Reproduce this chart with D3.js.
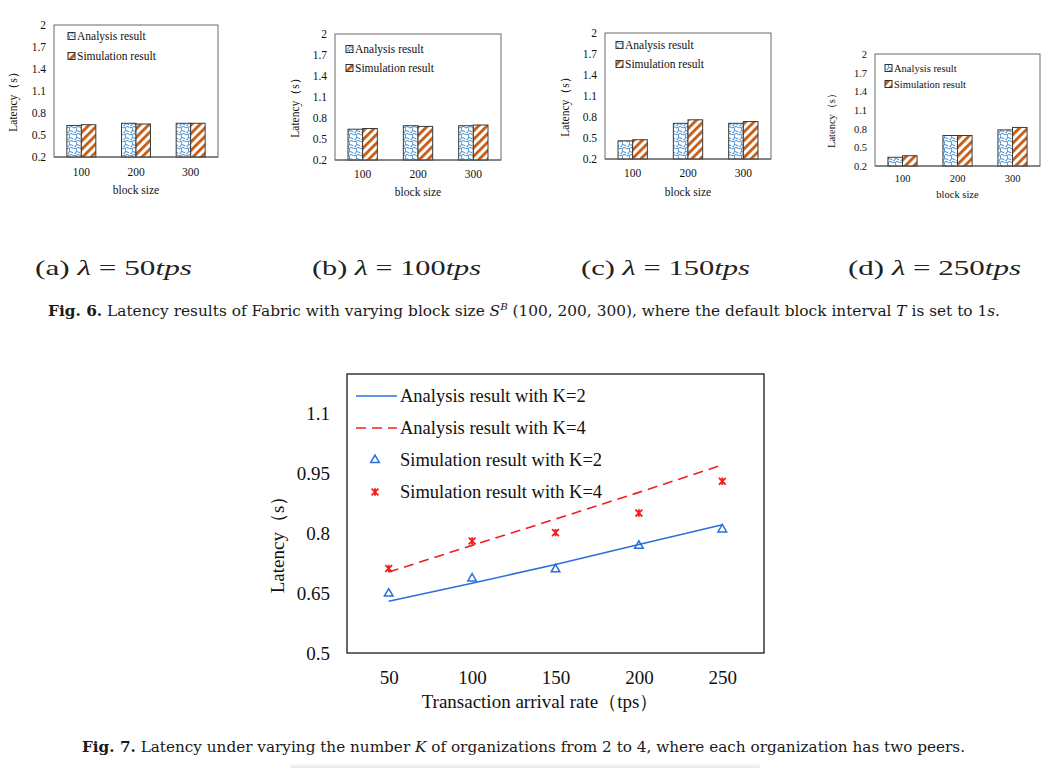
<!DOCTYPE html>
<html><head><meta charset="utf-8">
<script src="https://cdn.jsdelivr.net/npm/d3@7"></script>
<style>body{margin:0;background:#fff}svg{display:block}</style>
</head><body>
<svg id="c" width="1055" height="768"></svg>
<script>
// ---------- data ----------
const blockSizes = ["100", "200", "300"];
const lambdaValues = [50, 100, 150, 250];
const panelTags = ["(a)", "(b)", "(c)", "(d)"];
const barSeries = ["Analysis result", "Simulation result"];
const analysis50 = [0.63, 0.66, 0.66];
const simulation50 = [0.64, 0.65, 0.66];
const analysis100 = [0.64, 0.69, 0.69];
const simulation100 = [0.65, 0.68, 0.70];
const analysis150 = [0.46, 0.71, 0.71];
const simulation150 = [0.475, 0.76, 0.735];
const analysis250 = [0.34, 0.69, 0.78];
const simulation250 = [0.365, 0.69, 0.82];
const barTicks = [0.2, 0.5, 0.8, 1.1, 1.4, 1.7, 2];

const arrivalRates = [50, 100, 150, 200, 250];
const analysisK2 = [0.63, 0.675, 0.722, 0.772, 0.822];
const analysisK4 = [0.703, 0.77, 0.836, 0.903, 0.972];
const simulationK2 = [0.649, 0.687, 0.71, 0.769, 0.81];
const simulationK4 = [0.712, 0.781, 0.802, 0.851, 0.931];
const lineTicks = [0.5, 0.65, 0.8, 0.95, 1.1];
const lineSeries = ["Analysis result with K=2", "Analysis result with K=4",
                    "Simulation result with K=2", "Simulation result with K=4"];

const panelData = [
  [analysis50, simulation50],
  [analysis100, simulation100],
  [analysis150, simulation150],
  [analysis250, simulation250]
];

// ---------- layout ----------
const svg = d3.select("#c");
const serif = "'Liberation Serif', 'Times New Roman', serif";
const BLUE = "#2a6fdc", ORANGE = "#c55a11", WAVE = "#5b9bd5", RED = "#f51c1c";

const defs = svg.append("defs");
// wavy blue pattern
const pw = defs.append("pattern").attr("id", "wave").attr("patternUnits", "userSpaceOnUse")
  .attr("width", 7).attr("height", 7);
pw.append("rect").attr("width", 7).attr("height", 7).attr("fill", "#fff");
pw.append("path").attr("d", "M0,1 C2,-1 3,3 5,1.5 S7,4 6,5.5 S3,8 3.5,7 M-1,5 C1,3 2,7 3,5")
  .attr("fill", "none").attr("stroke", WAVE).attr("stroke-width", 1.1);
// orange stripes
const ps = defs.append("pattern").attr("id", "stripe").attr("patternUnits", "userSpaceOnUse")
  .attr("width", 6).attr("height", 6).attr("patternTransform", "rotate(45)");
ps.append("rect").attr("width", 6).attr("height", 6).attr("fill", "#fff");
ps.append("rect").attr("x", 0).attr("width", 2.8).attr("height", 6).attr("fill", ORANGE);
const fills = ["url(#wave)", "url(#stripe)"];

const panels = [
  {frame: [54, 25, 218, 157], fs: 11.5, ylabX: 17, xtickY: 175.5, xlabY: 194, legX: 68, legY: [36, 56], capX: 35, capW: 157},
  {frame: [335, 34, 501, 160], fs: 11.5, ylabX: 299, xtickY: 178, xlabY: 196, legX: 346, legY: [49, 68], capX: 312, capW: 169},
  {frame: [605, 33, 771, 159], fs: 11.5, ylabX: 569, xtickY: 177, xlabY: 196, legX: 616, legY: [45, 64], capX: 581, capW: 169},
  {frame: [875, 54, 1040, 166], fs: 10.5, ylabX: 835, xtickY: 181.5, xlabY: 197.5, legX: 885, legY: [68, 84], capX: 848, capW: 173}
];

panels.forEach((p, i) => {
  const [l, t, r, b] = p.frame;
  const g = svg.append("g");
  const x = d3.scaleBand().domain(blockSizes).range([l, r]).paddingInner(0.47).paddingOuter(0.235);
  const xs = d3.scaleBand().domain([0, 1]).range([0, x.bandwidth()]);
  const y = d3.scaleLinear().domain([0.2, 2]).range([b, t]);

  // frame
  g.append("rect").attr("x", l).attr("y", t).attr("width", r - l).attr("height", b - t)
    .attr("fill", "#fff").attr("stroke", "#6b6b6b").attr("stroke-width", 1);

  // bars
  [0, 1].forEach(s => {
    g.selectAll(null).data(panelData[i][s]).enter().append("rect")
      .attr("x", (d, k) => x(blockSizes[k]) + xs(s))
      .attr("y", d => y(d))
      .attr("width", xs.bandwidth())
      .attr("height", d => y(0.2) - y(d))
      .attr("fill", fills[s]).attr("stroke", "#3a3a3a").attr("stroke-width", 1);
  });

  // axes
  const ya = d3.axisLeft(y).tickValues(barTicks).tickSize(0).tickPadding(8).tickFormat(d3.format("~g"));
  const yg = g.append("g").attr("transform", `translate(${l},0)`).call(ya);
  yg.select(".domain").remove();
  const xa = d3.axisBottom(x).tickSize(0).tickPadding(0);
  const xg = g.append("g").attr("transform", `translate(0,${p.xtickY})`).call(xa);
  xg.select(".domain").remove();
  [yg, xg].forEach(a => a.selectAll("text").attr("font-family", serif).attr("font-size", p.fs).attr("fill", "#111"));
  xg.selectAll("text").attr("dy", 0);
  g.append("line").attr("x1", l).attr("x2", r).attr("y1", b).attr("y2", b).attr("stroke", "#555");

  g.append("text").attr("transform", `translate(${p.ylabX},${(t + b) / 2 + 8}) rotate(-90)`)
    .attr("text-anchor", "middle").attr("font-family", serif).attr("font-size", p.fs).attr("fill", "#111")
    .text("Latency（s）");
  g.append("text").attr("x", (l + r) / 2).attr("y", p.xlabY).attr("text-anchor", "middle")
    .attr("font-family", serif).attr("font-size", p.fs).attr("fill", "#111").text("block size");

  // legend
  barSeries.forEach((name, s) => {
    g.append("rect").attr("x", p.legX).attr("y", p.legY[s] - 3.5).attr("width", 7).attr("height", 7)
      .attr("fill", fills[s]).attr("stroke", "#333").attr("stroke-width", 1);
    g.append("text").attr("x", p.legX + 9).attr("y", p.legY[s]).attr("dy", "0.35em")
      .attr("font-family", serif).attr("font-size", p.fs).attr("fill", "#111").text(name);
  });

  // sub caption
  const cap = svg.append("text").attr("x", p.capX).attr("y", 275)
    .attr("font-family", serif).attr("font-size", 22).attr("fill", "#222")
    .attr("textLength", p.capW).attr("lengthAdjust", "spacingAndGlyphs");
  cap.append("tspan").text(panelTags[i] + " ");
  cap.append("tspan").attr("font-style", "italic").text("λ");
  cap.append("tspan").text(" = " + lambdaValues[i]);
  cap.append("tspan").attr("font-style", "italic").text("tps");
});

// ---------- Fig. 6 caption ----------
const capFont = "'DejaVu Serif', serif";
const c6 = svg.append("text").attr("x", 48).attr("y", 316).attr("font-family", capFont)
  .attr("font-size", 15).attr("fill", "#1a1a1a").attr("textLength", 952).attr("lengthAdjust", "spacingAndGlyphs");
c6.append("tspan").attr("font-weight", "bold").text("Fig. 6.");
c6.append("tspan").text("  Latency results of Fabric with varying block size ");
c6.append("tspan").attr("font-style", "italic").text("S");
c6.append("tspan").attr("font-style", "italic").attr("font-size", 10).attr("dy", -6).text("B");
c6.append("tspan").attr("dy", 6).text(" (100, 200, 300), where the default block interval ");
c6.append("tspan").attr("font-style", "italic").text("T");
c6.append("tspan").text(" is set to 1");
c6.append("tspan").attr("font-style", "italic").text("s");
c6.append("tspan").text(".");

// ---------- Fig. 7 line chart ----------
const L = 347, T = 374, R = 764, B = 653;
const g7 = svg.append("g");
const x7 = d3.scaleLinear().domain([25, 275]).range([L, R]);
const y7 = d3.scaleLinear().domain([0.5, 1.2]).range([B, T]);
g7.append("rect").attr("x", L).attr("y", T).attr("width", R - L).attr("height", B - T)
  .attr("fill", "#fff").attr("stroke", "#1a1a1a").attr("stroke-width", 1.3);

const ya7 = g7.append("g").attr("transform", `translate(${L},0)`)
  .call(d3.axisLeft(y7).tickValues(lineTicks).tickSize(0).tickPadding(17).tickFormat(d3.format("~g")));
ya7.select(".domain").remove();
const xa7 = g7.append("g").attr("transform", `translate(0,${B})`)
  .call(d3.axisBottom(x7).tickValues(arrivalRates).tickSize(0).tickPadding(18));
xa7.select(".domain").remove();
[ya7, xa7].forEach(a => a.selectAll("text").attr("font-family", serif).attr("font-size", 19).attr("fill", "#111"));

g7.append("text").attr("transform", `translate(284,540) rotate(-90)`).attr("text-anchor", "middle")
  .attr("font-family", serif).attr("font-size", 19).attr("fill", "#111").text("Latency（s）");
g7.append("text").attr("x", 540).attr("y", 708).attr("text-anchor", "middle")
  .attr("font-family", serif).attr("font-size", 19).attr("fill", "#111").text("Transaction arrival rate（tps）");

const line7 = d3.line().x((d, k) => x7(arrivalRates[k])).y(d => y7(d));
g7.append("path").attr("d", line7(analysisK2)).attr("fill", "none").attr("stroke", BLUE).attr("stroke-width", 1.6);
g7.append("path").attr("d", line7(analysisK4)).attr("fill", "none").attr("stroke", RED)
  .attr("stroke-width", 1.6).attr("stroke-dasharray", "10,6");

const tri = d3.symbol().type(d3.symbolTriangle).size(32);
function starPath(cx, cy, s) {
  return `M${cx - s},${cy - s}L${cx + s},${cy + s}M${cx - s},${cy + s}L${cx + s},${cy - s}M${cx},${cy - s * 1.1}L${cx},${cy + s * 1.1}`;
}
g7.selectAll(null).data(simulationK2).enter().append("path")
  .attr("d", tri).attr("transform", (d, k) => `translate(${x7(arrivalRates[k])},${y7(d)})`)
  .attr("fill", "none").attr("stroke", BLUE).attr("stroke-width", 1.5);
g7.selectAll(null).data(simulationK4).enter().append("path")
  .attr("d", (d, k) => starPath(x7(arrivalRates[k]), y7(d), 3.4))
  .attr("fill", "none").attr("stroke", RED).attr("stroke-width", 1.8);

// legend
const legRows = [396, 428, 460, 492];
g7.append("line").attr("x1", 356).attr("x2", 397).attr("y1", legRows[0]).attr("y2", legRows[0])
  .attr("stroke", BLUE).attr("stroke-width", 1.6);
g7.append("line").attr("x1", 356).attr("x2", 397).attr("y1", legRows[1]).attr("y2", legRows[1])
  .attr("stroke", RED).attr("stroke-width", 1.6).attr("stroke-dasharray", "10,6");
g7.append("path").attr("d", tri).attr("transform", `translate(375,${legRows[2]})`)
  .attr("fill", "none").attr("stroke", BLUE).attr("stroke-width", 1.5);
g7.append("path").attr("d", starPath(375, legRows[3], 3.4)).attr("fill", "none").attr("stroke", RED).attr("stroke-width", 1.8);
lineSeries.forEach((name, k) => {
  g7.append("text").attr("x", 400).attr("y", legRows[k]).attr("dy", "0.35em")
    .attr("font-family", serif).attr("font-size", 18.5).attr("fill", "#111").text(name);
});

// ---------- Fig. 7 caption ----------
const c7 = svg.append("text").attr("x", 82).attr("y", 752).attr("font-family", capFont)
  .attr("font-size", 15).attr("fill", "#1a1a1a").attr("textLength", 883).attr("lengthAdjust", "spacingAndGlyphs");
c7.append("tspan").attr("font-weight", "bold").text("Fig. 7.");
c7.append("tspan").text("  Latency under varying the number ");
c7.append("tspan").attr("font-style", "italic").text("K");
c7.append("tspan").text(" of organizations from 2 to 4, where each organization has two peers.");

// faint page shadow at bottom
const grad = defs.append("linearGradient").attr("id", "shadow").attr("x1", 0).attr("x2", 0).attr("y1", 0).attr("y2", 1);
grad.append("stop").attr("offset", 0).attr("stop-color", "#fff");
grad.append("stop").attr("offset", 1).attr("stop-color", "#e6e6e6");
svg.append("rect").attr("x", 290).attr("y", 763).attr("width", 470).attr("height", 5).attr("rx", 2).attr("fill", "url(#shadow)");
</script>
</body></html>
